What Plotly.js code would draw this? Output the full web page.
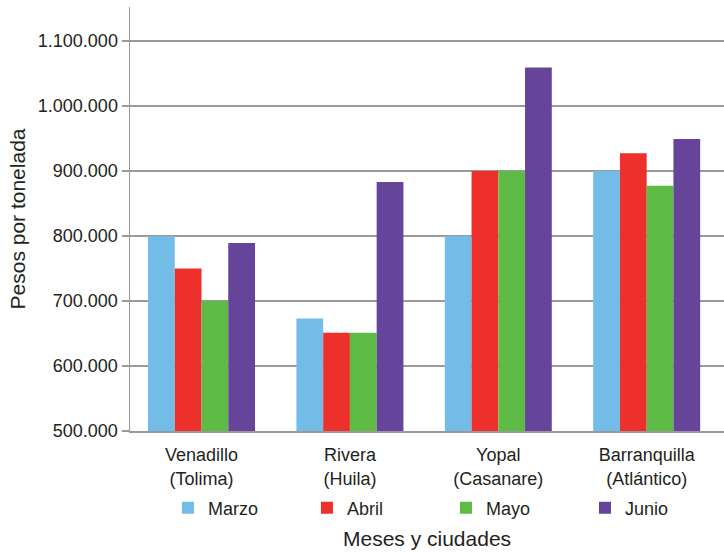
<!DOCTYPE html>
<html>
<head>
<meta charset="utf-8">
<script src="https://cdn.plot.ly/plotly-3.0.1.min.js"></script>
<style>
  html, body { margin: 0; padding: 0; background: #ffffff; }
  #chart { width: 724px; height: 552px; }
</style>
</head>
<body>
<div id="chart"></div>
<script>
const categories = ["Venadillo<br>(Tolima)", "Rivera<br>(Huila)", "Yopal<br>(Casanare)", "Barranquilla<br>(Atlántico)"];
const seriesNames = ["Marzo", "Abril", "Mayo", "Junio"];
const marzo = [800000, 673000, 800000, 900000];
const abril = [750000, 651000, 900000, 927000];
const mayo  = [700000, 651000, 900000, 877000];
const junio = [789000, 883000, 1059000, 949000];
const yTickVals = [500000, 600000, 700000, 800000, 900000, 1000000, 1100000];
const yTickText = ["500.000", "600.000", "700.000", "800.000", "900.000", "1.000.000", "1.100.000"];
const xTitle = "Meses y ciudades";
const yTitle = "Pesos por tonelada";

const colors = ["#74BCE8", "#EE302D", "#5DBB46", "#65449A"];
const values = [marzo, abril, mayo, junio];

const traces = values.map((v, i) => ({
  type: "bar",
  name: seriesNames[i],
  x: categories,
  y: v,
  marker: { color: colors[i], line: { width: 0 } },
  hoverinfo: "x+y+name"
}));

const font = "'Liberation Sans', Arial, Helvetica, sans-serif";
const fs = 18;
const tfs = 21;

const layout = {
  width: 724,
  height: 552,
  margin: { l: 130, r: 0, t: 7, b: 121 },
  paper_bgcolor: "#ffffff",
  plot_bgcolor: "#ffffff",
  font: { family: font, size: fs, color: "#231f20" },
  barmode: "group",
  bargap: 0.279,
  bargroupgap: 0,
  showlegend: true,
  legend: {
    orientation: "h",
    x: 0.232, xref: "container", xanchor: "left",
    y: 0.0797, yref: "container", yanchor: "middle",
    entrywidth: 94, entrywidthmode: "pixels",
    font: { family: font, size: fs, color: "#231f20" },
    traceorder: "normal",
    bgcolor: "rgba(0,0,0,0)"
  },
  annotations: [{
    text: xTitle,
    xref: "paper", yref: "paper",
    x: 0.5, y: -0.2524,
    xanchor: "center", yanchor: "middle",
    showarrow: false,
    font: { family: font, size: tfs, color: "#231f20" }
  }],
  xaxis: {
    type: "category",
    range: [-0.482, 3.521],
    showgrid: false,
    showline: true,
    linecolor: "#999999",
    linewidth: 1.5,
    ticks: "",
    ticklabelstandoff: 7,
    tickfont: { family: font, size: fs, color: "#231f20" },
    fixedrange: true
  },
  yaxis: {
    range: [500000, 1152000],
    tickvals: yTickVals,
    ticktext: yTickText,
    showgrid: true,
    gridcolor: "#9a9a9a",
    gridwidth: 1.5,
    showline: true,
    linecolor: "#999999",
    linewidth: 1.5,
    ticks: "outside",
    ticklen: 7,
    tickcolor: "#999999",
    tickwidth: 1.5,
    zeroline: false,
    tickfont: { family: font, size: fs, color: "#231f20" },
    title: { text: yTitle, font: { family: font, size: tfs, color: "#231f20" }, standoff: 6 },
    fixedrange: true
  }
};

Plotly.newPlot("chart", traces, layout, { displayModeBar: false, staticPlot: true });
</script>
</body>
</html>
